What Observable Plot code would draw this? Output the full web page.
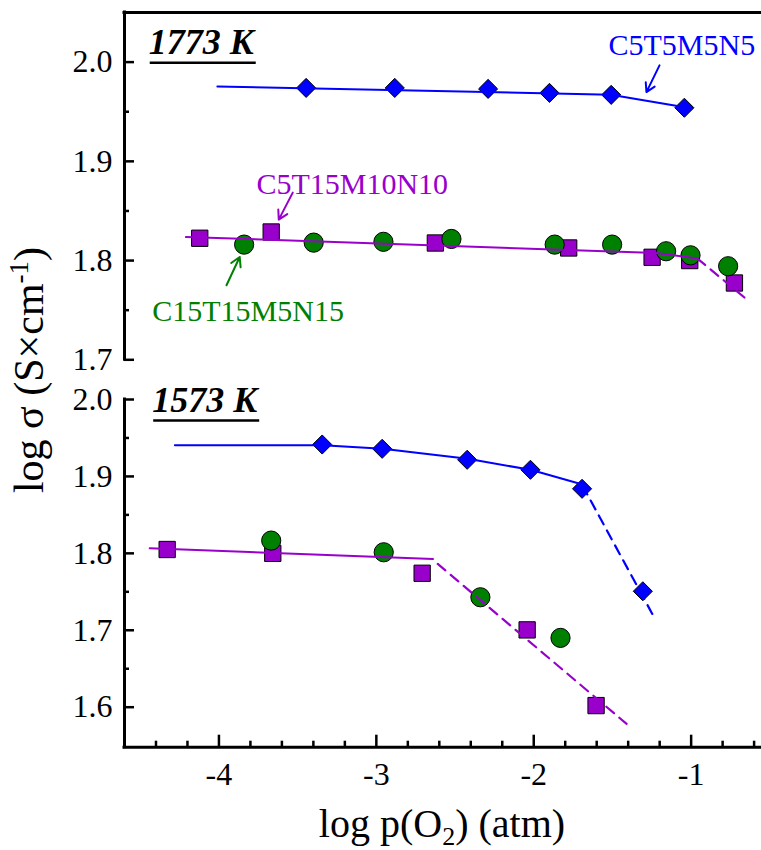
<!DOCTYPE html>
<html><head><meta charset="utf-8">
<script src="https://cdn.jsdelivr.net/npm/d3@7"></script>
<script src="https://cdn.jsdelivr.net/npm/@observablehq/plot@0.6"></script>
<style>
html,body{margin:0;padding:0;background:#fff;overflow:hidden}
#wrap{position:relative;width:761px;height:850px;font-family:'Liberation Serif','Times New Roman',Times,'DejaVu Serif',serif}
#wrap > svg{position:absolute;left:0}
#wrap svg text{font-family:'Liberation Serif','Times New Roman',Times,'DejaVu Serif',serif !important}
</style></head><body><div id="wrap"></div>
<script>
// ---------- axes / ticks ----------
const xDomain = [-4.6, -0.553];
const xMajorTicks = [-4, -3, -2, -1];
const xMinorTicks = [-4.4, -4.2, -3.8, -3.6, -3.4, -3.2, -2.8, -2.6, -2.4, -2.2, -1.8, -1.6, -1.4, -1.2, -0.8, -0.6];
const yDomainTop = [1.7, 2.05];
const yMajorTop = [1.7, 1.8, 1.9, 2.0];
const yMinorTop = [1.75, 1.85, 1.95];
const yDomainBottom = [1.548, 2.0];
const yMajorBottom = [1.6, 1.7, 1.8, 1.9, 2.0];
const yMinorBottom = [1.65, 1.75, 1.85, 1.95];

const seriesNames = ["C5T5M5N5", "C5T15M10N10", "C15T15M5N15"];
const seriesColors = ["#0000ff", "#9900cc", "#008000"];

// ---------- 1773 K data ----------
const x1773_C5T5M5N5 = [-3.446, -2.883, -2.290, -1.900, -1.508, -1.043];
const y1773_C5T5M5N5 = [1.974, 1.974, 1.973, 1.969, 1.967, 1.954];
const x1773_C5T15M10N10 = [-4.122, -3.668, -2.625, -1.778, -1.248, -1.009, -0.725];
const y1773_C5T15M10N10 = [1.8225, 1.8288, 1.8177, 1.8127, 1.8033, 1.800, 1.7774];
const x1773_C15T15M5N15 = [-3.840, -3.398, -2.955, -2.523, -1.867, -1.502, -1.159, -1.004, -0.765];
const y1773_C15T15M5N15 = [1.8161, 1.8181, 1.8189, 1.8218, 1.8161, 1.8161, 1.8094, 1.8053, 1.7943];

// fit lines 1773 K
const fit1773_blue_x = [-4.01, -1.51, -1.04];
const fit1773_blue_y = [1.9755, 1.9672, 1.9545];
const fit1773_purple_x = [-4.21, -1.22, -0.96];
const fit1773_purple_y = [1.8238, 1.8077, 1.802];
const fit1773_purpleDash_x = [-0.96, -0.64];
const fit1773_purpleDash_y = [1.802, 1.760];

// ---------- 1573 K data ----------
const x1573_C5T5M5N5 = [-3.344, -2.963, -2.423, -2.021, -1.693, -1.307];
const y1573_C5T5M5N5 = [1.9415, 1.9359, 1.9216, 1.9086, 1.8839, 1.7507];
const x1573_C5T15M10N10 = [-4.329, -3.658, -2.709, -2.042, -1.604];
const y1573_C5T15M10N10 = [1.805, 1.800, 1.7741, 1.7005, 1.6021];
const x1573_C15T15M5N15 = [-3.668, -2.953, -2.339, -1.830];
const y1573_C15T15M5N15 = [1.8166, 1.8014, 1.7429, 1.6901];

const fit1573_blue_x = [-4.28, -3.34, -2.96, -2.42, -2.02, -1.69];
const fit1573_blue_y = [1.9405, 1.9405, 1.936, 1.9229, 1.9086, 1.8895];
const fit1573_blueDash_x = [-1.69, -1.23];
const fit1573_blueDash_y = [1.888, 1.715];
const fit1573_purple_x = [-4.44, -2.64];
const fit1573_purple_y = [1.8067, 1.7928];
const fit1573_purpleDash_x = [-2.61, -1.41];
const fit1573_purpleDash_y = [1.7863, 1.5783];

// ---------- annotations (data units) ----------
const tempLabels = ["1773 K", "1573 K"];
const tempLabelX = [-4.446, -4.424];
const tempLabelY = [2.0085, 1.9844];
const seriesLabelX = [-1.525, -3.762, -4.424];
const seriesLabelY = [2.0067, 1.8675, 1.7389];
const arrowX1 = [-1.201, -3.531, -3.952];
const arrowY1 = [1.9967, 1.8685, 1.7751];
const arrowX2 = [-1.284, -3.620, -3.868];
const arrowY2 = [1.9698, 1.8413, 1.8036];

const zip = (xs, ys) => xs.map((x, i) => ({x, y: ys[i]}));
const W = 761;
const SERIF = "'Liberation Serif','Times New Roman',Times,'DejaVu Serif',serif";

function spines(yDomain, top, bottom) {
  const m = [Plot.ruleX([xDomain[0]], {stroke: "black", strokeWidth: 3, strokeLinecap: "square"})];
  if (top) m.push(Plot.ruleY([yDomain[1]], {stroke: "black", strokeWidth: 3, strokeLinecap: "square"}));
  if (bottom) m.push(Plot.ruleY([yDomain[0]], {stroke: "black", strokeWidth: 3, strokeLinecap: "square"}));
  return m;
}
function yAxes(major, minor) {
  return [
    Plot.axisY(major, {tickSize: -10, tickPadding: 22, tickFormat: d3.format(".1f"), strokeWidth: 2.5, label: null, fontSize: 32}),
    Plot.axisY(minor, {tickSize: -5, fill: "none", strokeWidth: 2.5, label: null})
  ];
}
function dotsMarks(sq, ci, di) {
  return [
    Plot.dot(sq, {x: "x", y: "y", symbol: "square", r: 9.2, fill: seriesColors[1], stroke: "black", strokeWidth: 1}),
    Plot.dot(ci, {x: "x", y: "y", symbol: "circle", r: 9.6, fill: seriesColors[2], stroke: "black", strokeWidth: 1}),
    Plot.dot(di, {x: "x", y: "y", symbol: "diamond2", r: 8.6, fill: seriesColors[0], stroke: "black", strokeWidth: 1})
  ];
}
const solid = (d, c) => Plot.line(d, {x: "x", y: "y", stroke: c, strokeWidth: 2});
const dashed = (d, c) => Plot.line(d, {x: "x", y: "y", stroke: c, strokeWidth: 2.2, strokeDasharray: "10,7"});

const baseStyle = {fontFamily: SERIF, fontSize: "32px", color: "black", background: "white", overflow: "visible"};

// ----- top panel (1773 K)
const topPlot = Plot.plot({
  width: W, height: 380, marginTop: 12, marginBottom: 20.7, marginLeft: 124, marginRight: 0,
  style: baseStyle,
  x: {domain: xDomain, axis: null},
  y: {domain: yDomainTop, axis: null},
  marks: [
    ...spines(yDomainTop, true, false),
    ...yAxes(yMajorTop, yMinorTop),
    ...dotsMarks(zip(x1773_C5T15M10N10, y1773_C5T15M10N10), zip(x1773_C15T15M5N15, y1773_C15T15M5N15), zip(x1773_C5T5M5N5, y1773_C5T5M5N5)),
    solid(zip(fit1773_blue_x, fit1773_blue_y), seriesColors[0]),
    solid(zip(fit1773_purple_x, fit1773_purple_y), seriesColors[1]),
    dashed(zip(fit1773_purpleDash_x, fit1773_purpleDash_y), seriesColors[1]),
    Plot.text([tempLabels[0]], {x: [tempLabelX[0]], y: [tempLabelY[0]], text: d => d, textAnchor: "start", lineAnchor: "bottom", fontSize: 36, fontWeight: "bold", fontStyle: "italic", fill: "black"}),
    Plot.text(seriesNames, {x: seriesLabelX, y: seriesLabelY, text: d => d, textAnchor: "start", lineAnchor: "bottom", fontSize: 30, fill: seriesColors}),
    Plot.arrow(seriesNames, {x1: arrowX1, y1: arrowY1, x2: arrowX2, y2: arrowY2, stroke: seriesColors, strokeWidth: 2, headLength: 12, headAngle: 60})
  ]
});

// ----- bottom panel (1573 K)
const botPlot = Plot.plot({
  width: W, height: 470, marginTop: 19, marginBottom: 103.3, marginLeft: 124, marginRight: 0,
  style: baseStyle,
  x: {domain: xDomain, axis: null},
  y: {domain: yDomainBottom, axis: null},
  marks: [
    ...spines(yDomainBottom, false, true),
    ...yAxes(yMajorBottom, yMinorBottom),
    Plot.axisX(xMajorTicks, {tickSize: -12, tickPadding: 27, tickFormat: d => String(d), strokeWidth: 2.5, label: null, fontSize: 32}),
    Plot.axisX(xMinorTicks, {tickSize: -6, fill: "none", strokeWidth: 2.5, label: null}),
    ...dotsMarks(zip(x1573_C5T15M10N10, y1573_C5T15M10N10), zip(x1573_C15T15M5N15, y1573_C15T15M5N15), zip(x1573_C5T5M5N5, y1573_C5T5M5N5)),
    solid(zip(fit1573_blue_x, fit1573_blue_y), seriesColors[0]),
    dashed(zip(fit1573_blueDash_x, fit1573_blueDash_y), seriesColors[0]),
    solid(zip(fit1573_purple_x, fit1573_purple_y), seriesColors[1]),
    dashed(zip(fit1573_purpleDash_x, fit1573_purpleDash_y), seriesColors[1]),
    Plot.text([tempLabels[1]], {x: [tempLabelX[1]], y: [tempLabelY[1]], text: d => d, textAnchor: "start", lineAnchor: "bottom", fontSize: 36, fontWeight: "bold", fontStyle: "italic", fill: "black"})
  ]
});

const wrap = document.getElementById("wrap");
topPlot.style.top = "0px";
botPlot.style.top = "380px";
wrap.appendChild(topPlot);
wrap.appendChild(botPlot);

const NS = "http://www.w3.org/2000/svg";
for (const svg of [topPlot, botPlot]) {
  svg.setAttribute("font-family", SERIF);
  for (const t of svg.querySelectorAll("text")) t.style.fontFamily = SERIF;
}
// underline temperature labels
for (const svg of [topPlot, botPlot]) {
  for (const t of svg.querySelectorAll("text")) {
    if (tempLabels.includes(t.textContent)) {
      const b = t.getBBox();
      const ln = document.createElementNS(NS, "line");
      const tr = t.getAttribute("transform");
      if (tr) ln.setAttribute("transform", tr);
      const yy = b.y + b.height + 1;
      ln.setAttribute("x1", b.x + 1); ln.setAttribute("x2", b.x + b.width - 1);
      ln.setAttribute("y1", yy); ln.setAttribute("y2", yy);
      ln.setAttribute("stroke", "black"); ln.setAttribute("stroke-width", "2.5");
      t.parentNode.appendChild(ln);
    }
  }
}

// axis titles overlay
const ov = document.createElementNS(NS, "svg");
ov.setAttribute("width", W); ov.setAttribute("height", 850);
ov.style.top = "0px"; ov.style.pointerEvents = "none";
ov.innerHTML =
  '<text transform="translate(43,370) rotate(-90)" text-anchor="middle" font-size="42" fill="black">log σ (S×cm<tspan font-size="27" dy="-15">-1</tspan><tspan dy="15">)</tspan></text>' +
  '<text x="442" y="837" text-anchor="middle" font-size="40" fill="black">log p(O<tspan font-size="26" dy="8">2</tspan><tspan dy="-8">) (atm)</tspan></text>';
wrap.appendChild(ov);
for (const t of ov.querySelectorAll("text")) t.style.fontFamily = SERIF;
</script></body></html>
